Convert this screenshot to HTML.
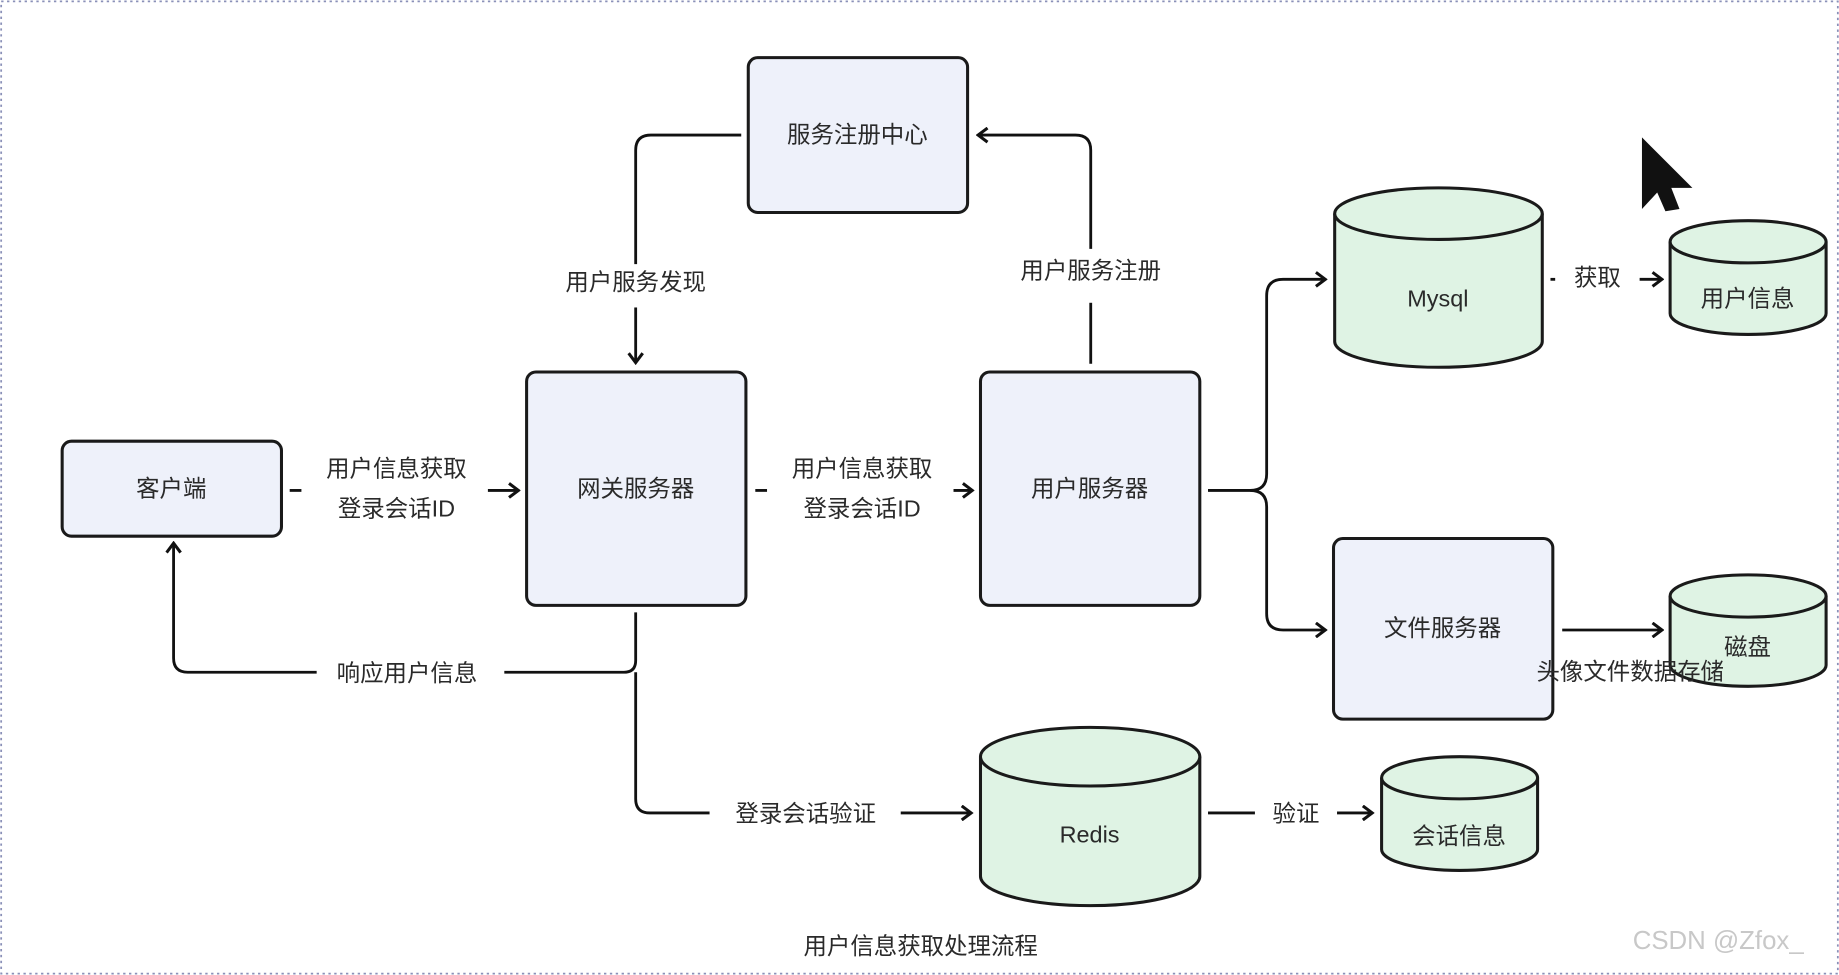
<!DOCTYPE html>
<html><head><meta charset="utf-8"><style>
html,body{margin:0;padding:0;background:#fff;width:1839px;height:975px;overflow:hidden}
svg{display:block}
text{font-family:"Liberation Sans","Noto Sans CJK SC",sans-serif;font-size:20px;fill:#2a2a2a;text-anchor:middle;dominant-baseline:middle}
</style></head><body>
<svg width="1839" height="975" viewBox="0 0 1568 831" xmlns="http://www.w3.org/2000/svg">
<defs>
<marker id="a" markerWidth="12" markerHeight="14" refX="10" refY="7" orient="auto" markerUnits="userSpaceOnUse">
<path d="M2,1 L10,7 L2,13" fill="none" stroke="#111" stroke-width="2.6"/>
</marker>
</defs>
<rect x="1" y="1" width="1566" height="829" fill="none" stroke="#8a90b8" stroke-width="1.5" stroke-dasharray="2,3"/>
<g fill="#eef1fa" stroke="#1a1a1a" stroke-width="2.6">
<rect x="638" y="49" width="187" height="132" rx="8"/>
<rect x="53" y="376" width="187" height="81" rx="8"/>
<rect x="449" y="317" width="187" height="199" rx="8"/>
<rect x="836" y="317" width="187" height="199" rx="8"/>
<rect x="1137" y="459" width="187" height="154" rx="8"/>
</g>
<g fill="#dff3e4" stroke="#1a1a1a" stroke-width="2.6">
<path d="M1138,182 V291 A88.5,22 0 0 0 1315,291 V182"/><ellipse cx="1226.5" cy="182" rx="88.5" ry="22"/>
<path d="M1424,206 V267 A66.5,18 0 0 0 1557,267 V206"/><ellipse cx="1490.5" cy="206" rx="66.5" ry="18"/>
<path d="M1424,508 V567 A66.5,18 0 0 0 1557,567 V508"/><ellipse cx="1490.5" cy="508" rx="66.5" ry="18"/>
<path d="M836,645 V747 A93.5,25 0 0 0 1023,747 V645"/><ellipse cx="929.5" cy="645" rx="93.5" ry="25"/>
<path d="M1178,663 V724 A66.5,18 0 0 0 1311,724 V663"/><ellipse cx="1244.5" cy="663" rx="66.5" ry="18"/>
</g>
<g fill="none" stroke="#111" stroke-width="2.4">
<path d="M247,418 H257"/><path d="M416,418 H442" marker-end="url(#a)"/>
<path d="M644,418 H654"/><path d="M813,418 H829" marker-end="url(#a)"/>
<path d="M542,522 V563 Q542,573 532,573 H430"/>
<path d="M270,573 H160 Q148,573 148,561 V463" marker-end="url(#a)"/>
<path d="M542,573 V681 Q542,693 554,693 H605"/>
<path d="M768,693 H828" marker-end="url(#a)"/>
<path d="M1030,693 H1070"/><path d="M1140,693 H1170" marker-end="url(#a)"/>
<path d="M632,115 H555 Q542,115 542,128 V225"/>
<path d="M542,262 V309" marker-end="url(#a)"/>
<path d="M930,310 V258"/>
<path d="M930,212 V128 Q930,115 917,115 H834" marker-end="url(#a)"/>
<path d="M1030,418 H1066 Q1080,418 1080,404 V252 Q1080,238 1094,238 H1130" marker-end="url(#a)"/>
<path d="M1066,418 Q1080,418 1080,432 V523 Q1080,537 1094,537 H1130" marker-end="url(#a)"/>
<path d="M1322,238 H1326"/><path d="M1398,238 H1417" marker-end="url(#a)"/>
<path d="M1332,537 H1417" marker-end="url(#a)"/>
</g>
<text x="731" y="116">服务注册中心</text>
<text x="146" y="418">客户端</text>
<text x="542" y="418">网关服务器</text>
<text x="929" y="418">用户服务器</text>
<text x="1230" y="537">文件服务器</text>
<text x="1226" y="256">Mysql</text>
<text x="1490" y="256">用户信息</text>
<text x="1490" y="553">磁盘</text>
<text x="929" y="713">Redis</text>
<text x="1244" y="714">会话信息</text>
<text x="338" y="401">用户信息获取</text>
<text x="338" y="435">登录会话ID</text>
<text x="735" y="401">用户信息获取</text>
<text x="735" y="435">登录会话ID</text>
<text x="347" y="575">响应用户信息</text>
<text x="687" y="695">登录会话验证</text>
<text x="1105" y="695">验证</text>
<text x="542" y="242">用户服务发现</text>
<text x="930" y="232">用户服务注册</text>
<text x="1362" y="238">获取</text>
<text x="1390" y="574">头像文件数据存储</text>
<text x="785" y="808">用户信息获取处理流程</text>
<text x="1465" y="803" style="font-size:22px;fill:#c8c8c8">CSDN @Zfox_</text>
<path d="M1400,117 L1443,160 L1425,160 L1432,178 L1420,180 L1413,164 L1400,178 Z" fill="#111"/>
</svg>
</body></html>
